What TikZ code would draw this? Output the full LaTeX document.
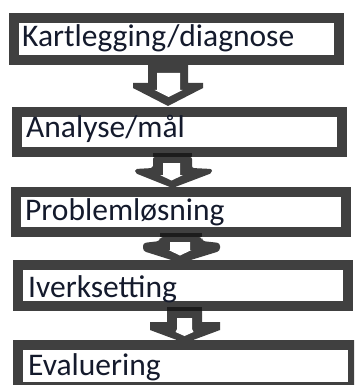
\documentclass[tikz,border=0pt]{standalone}
\usepackage{fontspec}
\setmainfont{Carlito}
\usetikzlibrary{calc}
\definecolor{boxgray}{HTML}{404040}
\definecolor{bargray}{HTML}{1C1C1C}
\definecolor{inkblue}{HTML}{141A2C}
\tikzset{
  stage/.style={rectangle, draw=boxgray, line width=10pt, fill=white,
    inner sep=0pt, outer sep=0pt},
  lbl/.style={anchor=base west, inner sep=0pt, text=inkblue,
    font=\fontsize{31.5}{32}\selectfont},
  outerarrow/.style={fill=boxgray},
  innerarrow/.style={fill=white},
}
\begin{document}
\begin{tikzpicture}[x=1pt, y=-1pt]
\clip (0,0) rectangle (354,385);
\fill[white] (0,0) rectangle (354,385);

% the five stages
\node[stage, minimum width=325pt, minimum height=42pt] (b1) at (176.5,39) {};
\node[stage, minimum width=325pt, minimum height=40pt] (b2) at (179.5,132) {};
\node[stage, minimum width=330pt, minimum height=40pt] (b3) at (181,212) {};
\node[stage, minimum width=330pt, minimum height=41pt] (b4) at (183,285.5) {};
\node[stage, minimum width=335pt, minimum height=42pt] (b5) at (185.5,366) {};

\node[lbl] (t1) at (22,47) {Kartlegging/diagnose};
\node[lbl] (t2) at (26,137) {Analyse/mål};
\node[lbl] (t3) at (25,220) {Problemløsning};
\node[lbl] (t4) at (28,297) {Iverksetting};
\node[lbl] (t5) at (28,375) {Evaluering};

% block arrows, each hanging from the lower edge of the stage above
\coordinate (a1) at ($(b1.south)+(-8.5,5)$);
\coordinate (a2) at ($(b2.south)+(-7,5)$);
\coordinate (a3) at ($(b3.south)+(0,5)$);
\coordinate (a4) at ($(b4.south)+(1.5,5)$);

\begin{scope}[shift={(a1)}]
  \fill[outerarrow] (-20,0) -- (20,0) -- (20,18) -- (35,18) -- (35,23)
    -- (0,41) -- (-35,23) -- (-35,18) -- (-20,18) -- cycle;
  \fill[innerarrow] (-11,8) -- (12,8) -- (12,25) -- (14.5,25) -- (0.5,32)
    -- (-13.5,25) -- (-11,25) -- cycle;
\end{scope}

\begin{scope}[shift={(a2)}]
  \fill[bargray] (-19.5,-4) rectangle (19.5,0);
  \fill[outerarrow, rounded corners=2pt] (-19.5,0) -- (19.5,0) -- (19.5,11)
    -- (39.5,12) -- (39.5,16) -- (0,31) -- (-37.5,16) -- (-37.5,12)
    -- (-19.5,11) -- cycle;
  \fill[innerarrow] (-9.5,6) -- (7.5,6) -- (7.5,18) -- (10.5,18) -- (-1,23.5)
    -- (-12.5,18) -- (-9.5,18) -- cycle;
\end{scope}

\begin{scope}[shift={(a3)}]
  \fill[bargray] (-21,-4) rectangle (21,0);
  \fill[outerarrow, rounded corners=3pt] (-21,0) -- (21,0) -- (21,4)
    -- (39,6) -- (39,14) -- (0,26) -- (-38,14) -- (-38,6)
    -- (-21,4) -- cycle;
  \fill[innerarrow] (-11,5) -- (9,5) -- (9,13) -- (10.5,13) -- (-1,18.5)
    -- (-12.5,13) -- (-11,13) -- cycle;
\end{scope}

\begin{scope}[shift={(a4)}]
  \fill[bargray] (-17.5,-4) rectangle (17.5,0);
  \fill[outerarrow] (-17.5,0) -- (17.5,0) -- (17.5,11) -- (35.5,11)
    -- (35.5,19) -- (0.5,32) -- (-34.5,19) -- (-34.5,11) -- (-17.5,11) -- cycle;
  \fill[innerarrow] (-7.5,7) -- (7.5,7) -- (7.5,18) -- (9,21) -- (0,25)
    -- (-9,21) -- (-7.5,18) -- cycle;
\end{scope}
\end{tikzpicture}
\end{document}
